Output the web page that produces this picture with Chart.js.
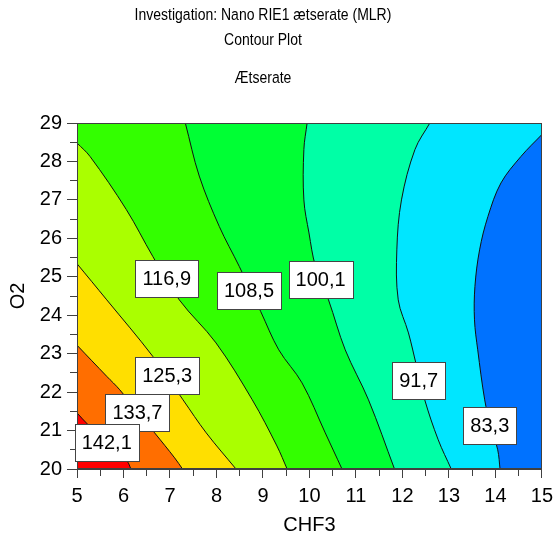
<!DOCTYPE html>
<html>
<head>
<meta charset="utf-8">
<script src="https://cdn.jsdelivr.net/npm/chart.js@4.4.1/dist/chart.umd.min.js"></script>
<style>
  html, body { margin: 0; padding: 0; background: #ffffff; }
  #wrap { width: 559px; height: 537px; position: relative; }
</style>
</head>
<body>
<div id="wrap"><canvas id="c" width="559" height="537"></canvas></div>
<script>
// ---- Data ----
const titleLines = ['Investigation: Nano RIE1 ætserate (MLR)', 'Contour Plot', 'Ætserate'];
const xTitle = 'CHF3';
const yTitle = 'O2';
const xRange = [5, 15];
const yRange = [20, 29];

const levels = [83.3, 91.7, 100.1, 108.5, 116.9, 125.3, 133.7, 142.1];

// contour lines (CHF3, O2), top/left end first
const c83_3  = [[15,28.70],[14.55,28.13],[14.12,27.44],[13.84,26.57],[13.66,25.70],[13.56,24.75],[13.55,23.88],[13.62,23.10],[13.77,21.80],[13.90,21.10],[14.05,20.50],[14.10,20]];
const c91_7  = [[12.59,29],[12.27,28.31],[11.98,27.00],[11.88,25.70],[11.91,24.40],[12.13,23.54],[12.30,22.70],[12.48,21.80],[12.77,20.76],[13.05,20]];
const c100_1 = [[9.95,29],[9.88,28.31],[9.88,27.00],[9.99,26.14],[10.13,25.27],[10.41,24.40],[10.77,23.10],[11.27,21.80],[11.83,20]];
const c108_5 = [[7.33,29],[7.63,27.62],[8.06,26.31],[8.49,25.27],[8.95,24.10],[9.34,23.10],[9.84,22.24],[10.34,20.94],[10.70,20]];
const c116_9 = [[5,28.48],[5.28,28.13],[6.06,26.75],[6.63,25.53],[7.20,24.40],[7.99,23.28],[8.77,21.80],[9.30,20.60],[9.52,20]];
const c125_3 = [[5,25.34],[5.64,24.40],[6.63,22.93],[7.28,21.80],[7.78,20.94],[8.42,20]];
const c133_7 = [[5,23.22],[5.64,22.41],[5.92,22.06],[6.67,20.94],[7.10,20.29],[7.27,20]];
const c142_1 = [[5,21.46],[5.24,21.15],[5.70,20.65],[6.08,20.20],[6.16,20]];
const contours = [c83_3, c91_7, c100_1, c108_5, c116_9, c125_3, c133_7, c142_1];

// fill colours: below lowest level, then above each level
const bandColors = ['#0072ff', '#00e6ff', '#00ffa6', '#00ff34', '#33ff00', '#aaff00', '#ffdf00', '#ff6e00', '#ff0000'];

// contour label boxes (text, CHF3, O2)
const labelText = ['116,9', '108,5', '100,1', '125,3', '133,7', '142,1', '91,7', '83,3'];
const labelX    = [6.93, 8.70, 10.24, 6.94, 6.30, 5.64, 12.35, 13.88];
const labelY    = [24.95, 24.64, 24.93, 22.43, 21.46, 20.68, 22.31, 21.14];

// ---- Build datasets ----
const FONT = "'Liberation Sans', Arial, Helvetica, sans-serif";
const TENSION = 0.35;
const toPts = arr => arr.map(p => ({x: p[0], y: p[1]}));
const [x0, x1] = xRange, [y0, y1] = yRange;

function regionPolygon(line) {
  // area on the high-value side (left / lower-left) of a contour;
  // closing corners lie just outside the plot so smoothing never shows
  const pts = line.slice();
  const first = line[0], last = line[line.length - 1];
  pts.push(last); // repeat end so the curve matches the contour line exactly
  const lo = [x0 - 1, y0 - 1], tl = [x0 - 1, y1 + 1], tr = [x1 + 1, y1 + 1];
  if (first[0] === x1) pts.push(lo, tl, tr);
  else if (first[1] === y1) pts.push(lo, tl);
  else pts.push(lo);
  return toPts(pts);
}

const lineSets = contours.map(c => ({
  data: toPts(c), showLine: true, fill: false, borderColor: '#111', borderWidth: 1,
  pointRadius: 0, tension: TENSION
}));
const polySets = [];
// highest band drawn last => lowest dataset index
for (let i = contours.length - 1; i >= 0; i--) {
  polySets.push({
    data: regionPolygon(contours[i]), showLine: true, fill: 'shape',
    backgroundColor: bandColors[i + 1], borderColor: 'transparent', borderWidth: 0,
    pointRadius: 0, tension: TENSION
  });
}
polySets.push({
  data: toPts([[x0,y0],[x1,y0],[x1,y1],[x0,y1]]), showLine: true, fill: 'shape',
  backgroundColor: bandColors[0], borderColor: 'transparent', borderWidth: 0,
  pointRadius: 0, tension: 0
});

const datasets = lineSets.concat(polySets);

// ---- Plugins ----
const titlePlugin = {
  id: 'titles',
  afterDraw(chart) {
    const ctx = chart.ctx;
    ctx.save();
    ctx.fillStyle = '#000';
    ctx.textAlign = 'center';
    ctx.textBaseline = 'alphabetic';
    ctx.font = '14px ' + FONT;
    const ys = [20, 45, 83];
    titleLines.forEach((t, i) => {
      ctx.save();
      ctx.translate(263, ys[i]);
      ctx.scale(1, 1.12);
      ctx.fillText(t, 0, 0);
      ctx.restore();
    });
    ctx.restore();
  }
};

const framePlugin = {
  id: 'frame',
  afterDatasetsDraw(chart) {
    const {ctx, chartArea: a} = chart;
    ctx.save();
    ctx.strokeStyle = '#404040';
    ctx.lineWidth = 1;
    ctx.strokeRect(Math.round(a.left) + 0.5, Math.round(a.top) + 0.5,
                   Math.round(a.right - a.left) - 1, Math.round(a.bottom - a.top) - 1);
    // contour labels
    const xs = chart.scales.x, ys = chart.scales.y;
    ctx.font = '20px ' + FONT;
    ctx.textAlign = 'center';
    ctx.textBaseline = 'middle';
    labelText.forEach((t, i) => {
      const cx = xs.getPixelForValue(labelX[i]);
      const cy = ys.getPixelForValue(labelY[i]);
      const w = Math.round(ctx.measureText(t).width + 14);
      const h = 37;
      const lx = Math.round(cx - w / 2) + 0.5, ly = Math.round(cy - h / 2) + 0.5;
      ctx.fillStyle = '#fff';
      ctx.fillRect(lx, ly, w, h);
      ctx.strokeStyle = '#444';
      ctx.strokeRect(lx, ly, w, h);
      ctx.fillStyle = '#000';
      ctx.fillText(t, cx, cy + 1);
    });
    ctx.restore();
  }
};

new Chart(document.getElementById('c'), {
  type: 'scatter',
  data: { datasets },
  options: {
    responsive: false,
    animation: false,
    layout: { padding: { top: 123, right: 15, left: 0, bottom: 0 } },
    plugins: { legend: { display: false }, tooltip: { enabled: false }, title: { display: false } },
    scales: {
      x: {
        type: 'linear', min: x0, max: x1,
        afterFit: s => { s.height = 68; },
        border: { display: true, color: '#404040' },
        grid: {
          drawOnChartArea: false, tickLength: 9, color: '#404040', tickColor: '#404040',
          tickBorderDash: c => Number.isInteger(c.tick && c.tick.value) ? [] : [6, 100]
        },
        ticks: {
          stepSize: 0.5, autoSkip: false, maxRotation: 0, padding: 6, color: '#000',
          font: { family: FONT, size: 20 },
          callback: v => Number.isInteger(v) ? String(v) : ''
        },
        title: { display: true, text: xTitle, color: '#000', font: { family: FONT, size: 20 }, padding: { top: 0, bottom: 0 } }
      },
      y: {
        type: 'linear', min: y0, max: y1,
        afterFit: s => { s.width = 77; },
        border: { display: true, color: '#404040' },
        grid: {
          drawOnChartArea: false, tickLength: 10, color: '#404040', tickColor: '#404040',
          tickBorderDash: c => Number.isInteger(c.tick && c.tick.value) ? [] : [0, 3, 7, 100]
        },
        ticks: {
          stepSize: 0.5, autoSkip: false, padding: 5, color: '#000',
          font: { family: FONT, size: 20 },
          callback: v => Number.isInteger(v) ? String(v) : ''
        },
        title: { display: true, text: yTitle, color: '#000', font: { family: FONT, size: 20 }, padding: { top: 6, bottom: 0 } }
      }
    }
  },
  plugins: [titlePlugin, framePlugin]
});
</script>
</body>
</html>
